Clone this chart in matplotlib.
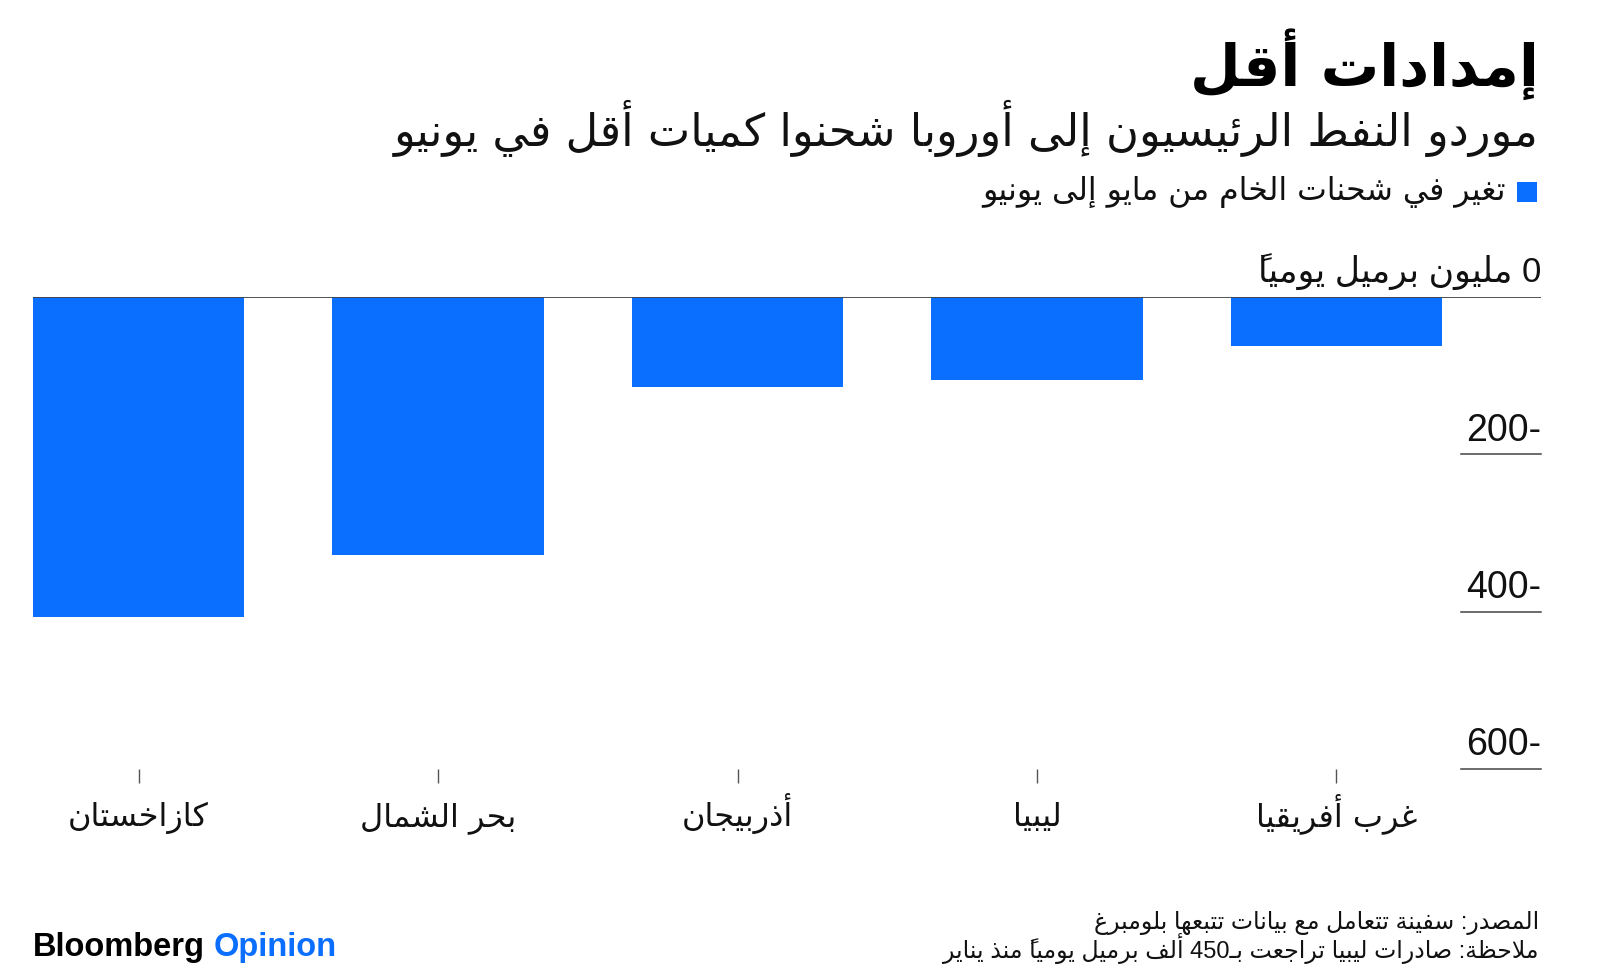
import matplotlib
matplotlib.use('Agg')
import matplotlib.pyplot as plt
import matplotlib.transforms as mtrans
from matplotlib.patches import Rectangle

# ---------------- data ----------------
categories = ['كازاخستان', 'بحر الشمال', 'أذربيجان', 'ليبيا', 'غرب أفريقيا']
changes = [-407, -328, -115, -105, -62]
yticks = [0, -200, -400, -600]
title = 'إمدادات أقل'
subtitle = 'موردو النفط الرئيسيون إلى أوروبا شحنوا كميات أقل في يونيو'
legend_label = 'تغير في شحنات الخام من مايو إلى يونيو'
unit_label = 'مليون برميل يومياً'
source = 'المصدر: سفينة تتعامل مع بيانات تتبعها بلومبرغ'
note = 'ملاحظة: صادرات ليبيا تراجعت بـ450 ألف برميل يومياً منذ يناير'

BLUE = '#0A6EFF'

# ---------------- minimal Arabic shaping + bidi ----------------
_R = {0x0622: 0xFE81, 0x0623: 0xFE83, 0x0624: 0xFE85, 0x0625: 0xFE87, 0x0627: 0xFE8D,
      0x0629: 0xFE93, 0x062F: 0xFEA9, 0x0630: 0xFEAB, 0x0631: 0xFEAD, 0x0632: 0xFEAF,
      0x0648: 0xFEED, 0x0649: 0xFEEF}
_D = {0x0626: 0xFE89, 0x0628: 0xFE8F, 0x062A: 0xFE95, 0x062B: 0xFE99, 0x062C: 0xFE9D,
      0x062D: 0xFEA1, 0x062E: 0xFEA5, 0x0633: 0xFEB1, 0x0634: 0xFEB5, 0x0635: 0xFEB9,
      0x0636: 0xFEBD, 0x0637: 0xFEC1, 0x0638: 0xFEC5, 0x0639: 0xFEC9, 0x063A: 0xFECD,
      0x0641: 0xFED1, 0x0642: 0xFED5, 0x0643: 0xFED9, 0x0644: 0xFEDD, 0x0645: 0xFEE1,
      0x0646: 0xFEE5, 0x0647: 0xFEE9, 0x064A: 0xFEF1}
_LAMALEF = {0x0622: 0xFEF5, 0x0623: 0xFEF7, 0x0625: 0xFEF9, 0x0627: 0xFEFB}
_TATWEEL = 0x0640


def _is_mark(c):
    return 0x064B <= ord(c) <= 0x0652


def _jtype(c):
    o = ord(c)
    if o in _D or o == _TATWEEL:
        return 'D'
    if o in _R:
        return 'R'
    return 'U'


def shape(text):
    chars = list(text)
    items = []
    i = 0
    while i < len(chars):
        c = chars[i]
        if ord(c) == 0x0644 and i + 1 < len(chars) and ord(chars[i + 1]) in _LAMALEF:
            items.append(('LA', _LAMALEF[ord(chars[i + 1])]))
            i += 2
            continue
        items.append((c, None))
        i += 1

    def jt(it):
        if it[0] == 'LA':
            return 'R'
        return _jtype(it[0])

    def mark(it):
        return it[0] != 'LA' and _is_mark(it[0])

    clusters = []  # [base, marks, ltr]
    n = len(items)
    for k, it in enumerate(items):
        if mark(it):
            if clusters:
                clusters[-1][1] += it[0]
            else:
                clusters.append(['', it[0], False])
            continue
        p = k - 1
        while p >= 0 and mark(items[p]):
            p -= 1
        q = k + 1
        while q < n and mark(items[q]):
            q += 1
        t = jt(it)
        jp = t in ('D', 'R') and p >= 0 and jt(items[p]) == 'D'
        jn = t == 'D' and q < n and jt(items[q]) in ('D', 'R')
        if it[0] == 'LA':
            g = chr(it[1] + (1 if jp else 0))
        else:
            o = ord(it[0])
            if o == _TATWEEL:
                g = it[0]
            elif o in _D:
                b = _D[o]
                g = chr(b + (3 if (jp and jn) else 2 if jn else 1 if jp else 0))
            elif o in _R:
                g = chr(_R[o] + (1 if jp else 0))
            else:
                g = it[0]
        ltr = it[0] != 'LA' and (it[0].isdigit() or ('a' <= it[0].lower() <= 'z'))
        clusters.append([g, '', ltr])
    tokens = []
    for g, m, ltr in clusters:
        s = g + m if ltr else m + g
        if ltr and tokens and tokens[-1][1]:
            tokens[-1][0] += s
        else:
            tokens.append([s, ltr])
    return ''.join(t[0] for t in reversed(tokens))


ARFONT = ['DejaVu Sans']
LATFONT = ['Liberation Sans', 'DejaVu Sans']

# ---------------- figure ----------------
W, H = 1600, 974
fig = plt.figure(figsize=(W / 100, H / 100), dpi=100)
fig.patch.set_facecolor('white')


def fx(px):
    return px / W


def fy(py):
    return 1 - py / H


left_px, right_px, top_px, bot_px = 33, 1541, 297, 769
ax = fig.add_axes([fx(left_px), fy(bot_px), fx(right_px - left_px), (bot_px - top_px) / H])

x = list(range(len(categories)))
ax.bar(x, changes, width=0.705, color=BLUE, zorder=2)
ax.set_xlim(-0.3526, 4.683)
ax.set_ylim(min(yticks), max(yticks))

for s in ax.spines.values():
    s.set_visible(False)
ax.set_yticks([])
ax.set_xticks(x)
ax.set_xticklabels([shape(c) for c in categories], fontfamily=ARFONT, fontsize=23)
ax.tick_params(axis='x', length=10, width=1, color='#555555', pad=31, labelcolor='#111111')
for lbl in ax.get_xticklabels():
    lbl.set_va('baseline')

# zero line
ax.axhline(0, color='#444444', lw=1.3, zorder=3)

# y tick labels with short lines on the right
trans = mtrans.blended_transform_factory(ax.transAxes, ax.transData)
for v in yticks[1:]:
    ax.axhline(v, xmin=0.947, xmax=1.0, color='#444444', lw=1.1, zorder=3, clip_on=False)
    ax.annotate(f'{abs(v)}-', xy=(1.0, v), xycoords=trans, xytext=(0, 4),
                textcoords='offset points', ha='right', va='bottom',
                fontsize=27, fontfamily=LATFONT, color='#111111')
ax.annotate(shape(f'{yticks[0]} {unit_label}'), xy=(1.0, yticks[0]), xycoords=trans,
            xytext=(0, 5), textcoords='offset points', ha='right', va='bottom',
            fontsize=25, fontfamily=LATFONT, color='#111111')

# ---------------- titles ----------------
fig.text(fx(1539), fy(86), shape(title), ha='right', va='baseline', fontsize=42,
         fontweight='bold', fontfamily=ARFONT, color='#000000')
fig.text(fx(1539), fy(146), shape(subtitle), ha='right', va='baseline', fontsize=32.3,
         fontfamily=ARFONT, color='#111111')

# legend
fig.patches.append(Rectangle((fx(1517), fy(202)), fx(20), 20 / H, transform=fig.transFigure,
                             facecolor=BLUE, edgecolor='none'))
fig.text(fx(1506), fy(192), shape(legend_label), ha='right', va='center', fontsize=22.7,
         fontfamily=ARFONT, color='#111111')

# ---------------- footer ----------------
fig.text(fx(33), fy(956), 'Bloomberg', ha='left', va='baseline', fontsize=23.5,
         fontweight='bold', fontfamily=['Liberation Sans'], color='#000000')
fig.text(fx(214), fy(956), 'Opinion', ha='left', va='baseline', fontsize=23.5,
         fontweight='bold', fontfamily=['Liberation Sans'], color=BLUE)
fig.text(fx(1539), fy(929), shape(source), ha='right', va='baseline', fontsize=17,
         fontfamily=LATFONT, color='#111111')
fig.text(fx(1539), fy(958), shape(note), ha='right', va='baseline', fontsize=17,
         fontfamily=LATFONT, color='#111111')

fig.savefig('out.png', dpi=100, facecolor='white')
